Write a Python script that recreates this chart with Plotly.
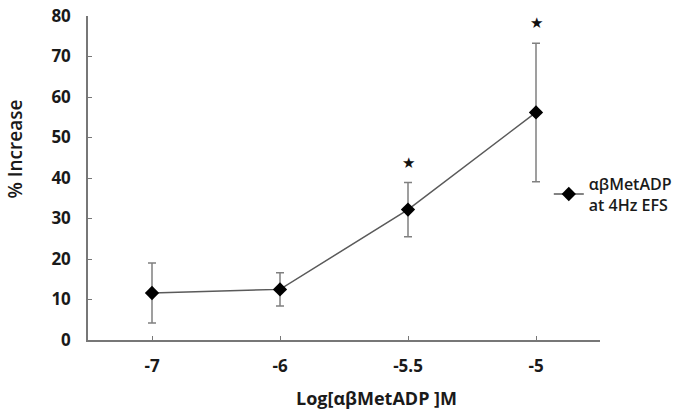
import plotly.graph_objects as go

categories = ["-7", "-6", "-5.5", "-5"]
means = [11.6, 12.5, 32.2, 56.2]
errors = [7.4, 4.1, 6.7, 17.1]
star_idx = [2, 3]
star_y = [43.6, 78.2]
series_name = "αβMetADP<br>at 4Hz EFS"
x_title = "Log[αβMetADP ]M"
y_title = "% Increase"

fig = go.Figure()
fig.add_trace(go.Scatter(
    x=categories, y=means, mode="lines+markers", name=series_name,
    line=dict(color="#5a5a5a", width=1.5),
    marker=dict(symbol="diamond", size=11, color="#000000"),
    error_y=dict(type="data", array=errors, visible=True, color="#808080",
                 thickness=1.5, width=4),
))

for c, yv in zip(star_idx, star_y):
    fig.add_annotation(x=c, y=yv, xref="x", yref="y", text="★", showarrow=False,
                       font=dict(family="DejaVu Sans", size=15, color="#111111"))

font_fam = "Open Sans"
fig.add_annotation(xref="paper", yref="paper", x=-0.143, y=0.59,
                   xanchor="center", yanchor="middle", textangle=-90,
                   text=y_title, showarrow=False,
                   font=dict(family=font_fam, size=19, color="#1a1a1a", weight=600))
fig.add_annotation(xref="paper", yref="paper", x=0.564, y=-0.179,
                   xanchor="center", yanchor="middle",
                   text=x_title, showarrow=False,
                   font=dict(family=font_fam, size=18, color="#1a1a1a", weight="bold"))

fig.update_layout(
    width=677, height=412,
    margin=dict(l=88, r=77, t=16, b=72, autoexpand=False),
    plot_bgcolor="white", paper_bgcolor="white",
    showlegend=True,
    legend=dict(x=0.90, y=0.45, xanchor="left", yanchor="middle",
                font=dict(family=font_fam, size=16, color="#1a1a1a", weight=600),
                itemwidth=30, bgcolor="rgba(0,0,0,0)"),
    xaxis=dict(type="category", range=[-0.5, 3.5], showline=True,
               linecolor="#777777", linewidth=1.5, ticks="inside", ticklen=4,
               tickcolor="#777777", showgrid=False, zeroline=False,
               ticklabelstandoff=10,
               tickfont=dict(family=font_fam, size=17, color="#1a1a1a", weight="bold")),
    yaxis=dict(range=[0, 80], dtick=10, showline=True, linecolor="#777777",
               linewidth=1.5, ticks="inside", ticklen=4, tickcolor="#777777",
               showgrid=False, zeroline=False, ticklabelstandoff=12,
               tickfont=dict(family=font_fam, size=17, color="#1a1a1a", weight="bold")),
)

fig.write_html("out.html")
